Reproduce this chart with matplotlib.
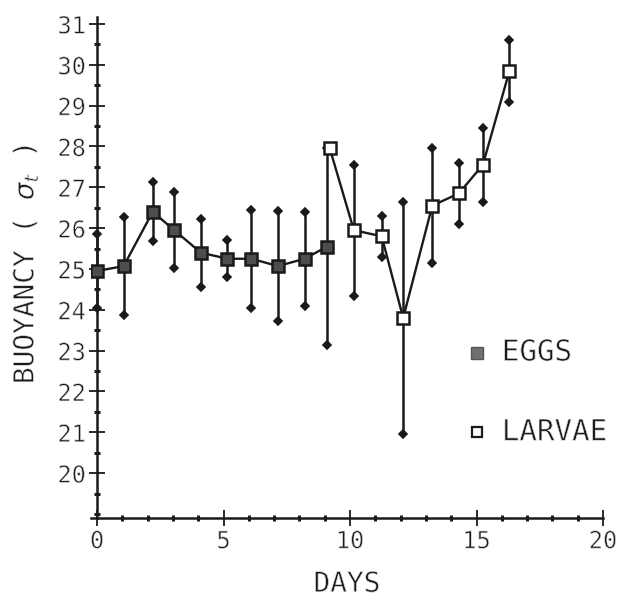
import numpy as np
import matplotlib
matplotlib.use("Agg")
import matplotlib.pyplot as plt
import matplotlib.patheffects as pe
from matplotlib.ticker import MultipleLocator


### Data ###
egg_days = [0.0, 1.05, 2.2, 3.05, 4.1, 5.15, 6.1, 7.15, 8.2, 9.1]
egg_mean = [24.95, 25.07, 26.4, 25.95, 25.4, 25.25, 25.25, 25.07, 25.25, 25.55]
egg_sd = [0.9, 1.2, 0.72, 0.93, 0.83, 0.45, 1.2, 1.35, 1.15, 2.4]

larvae_days = [9.2, 10.15, 11.25, 12.1, 13.25, 14.3, 15.25, 16.3]
larvae_mean = [27.95, 25.95, 25.8, 23.8, 26.55, 26.85, 27.55, 29.85]
larvae_sd = [0.0, 1.6, 0.5, 2.85, 1.4, 0.75, 0.9, 0.75]

x_ticks = [0, 5, 10, 15, 20]
y_ticks = [20, 21, 22, 23, 24, 25, 26, 27, 28, 29, 30, 31]

FONT = "DejaVu Sans Mono"
INK = "#1a1a1a"
EGG_FILL = "#4d4d4d"
# thin the glyph strokes a little so text looks like pen-plotter lettering
THIN = [pe.Normal(), pe.Stroke(linewidth=0.5, foreground="white")]


def draw_series(ax, x, y, err, face):
    x = np.asarray(x)
    y = np.asarray(y)
    err = np.asarray(err)
    has_err = err > 0
    # error bars with diamond heads at both ends
    _, caps, _ = ax.errorbar(x[has_err], y[has_err], yerr=err[has_err],
                             fmt="none", ecolor=INK, elinewidth=1.8,
                             capsize=3, capthick=1.2, zorder=2)
    for cap in caps:
        cap.set_marker("D")
        cap.set_markersize(4.5)
        cap.set_markerfacecolor(INK)
        cap.set_markeredgecolor(INK)
    ax.plot(x, y, color=INK, lw=1.7, zorder=3)
    ax.plot(x, y, ls="none", marker="s", ms=8.5, mfc=face, mec=INK,
            mew=1.8, zorder=4)


fig = plt.figure(figsize=(6.22, 6.01), dpi=100)
ax = fig.add_axes([0.1463, 0.138, 0.8232, 0.8337])

draw_series(ax, egg_days, egg_mean, egg_sd, EGG_FILL)
draw_series(ax, larvae_days, larvae_mean, larvae_sd, "white")

ax.set_xlim(-0.24, 20)
ax.set_ylim(18.9, 31.17)

for side in ["top", "right"]:
    ax.spines[side].set_visible(False)
ax.spines["left"].set_position(("data", 0))
ax.spines["left"].set_linewidth(1.8)
ax.spines["bottom"].set_linewidth(1.8)
ax.spines["left"].set_color(INK)
ax.spines["bottom"].set_color(INK)

ax.set_xticks(x_ticks)
ax.set_yticks(y_ticks)
ax.xaxis.set_minor_locator(MultipleLocator(1))
ax.yaxis.set_minor_locator(MultipleLocator(0.5))
ax.tick_params(which="major", direction="inout", length=12, width=1.3,
               color=INK, labelsize=17, labelcolor=INK, pad=2)
ax.tick_params(which="minor", direction="inout", length=5, width=2.2,
               color=INK)
for lab in ax.get_xticklabels() + ax.get_yticklabels():
    lab.set_family(FONT)
    lab.set_path_effects(THIN)

ax.set_xlabel("DAYS", fontsize=20, family=FONT, color=INK, labelpad=12,
              path_effects=THIN)
fig.text(0.04, 0.56, r"BUOYANCY ( $\sigma_t$ )", rotation=90, fontsize=20,
         family=FONT, color=INK, ha="center", va="center",
         path_effects=THIN)

# legend drawn as marker + text
ax.plot([15.0], [22.95], ls="none", marker="s", ms=8, mfc="#707070",
        mec="#555555")
ax.plot([15.0], [21.0], ls="none", marker="s", ms=7.5, mfc="white",
        mec=INK, mew=1.6)
ax.text(16.0, 22.95, "EGGS", fontsize=21, family=FONT, color=INK,
        va="center", clip_on=False, path_effects=THIN)
ax.text(16.0, 21.0, "LARVAE", fontsize=21, family=FONT, color=INK,
        va="center", clip_on=False, path_effects=THIN)

fig.savefig("out.png", dpi=100, facecolor="white")
